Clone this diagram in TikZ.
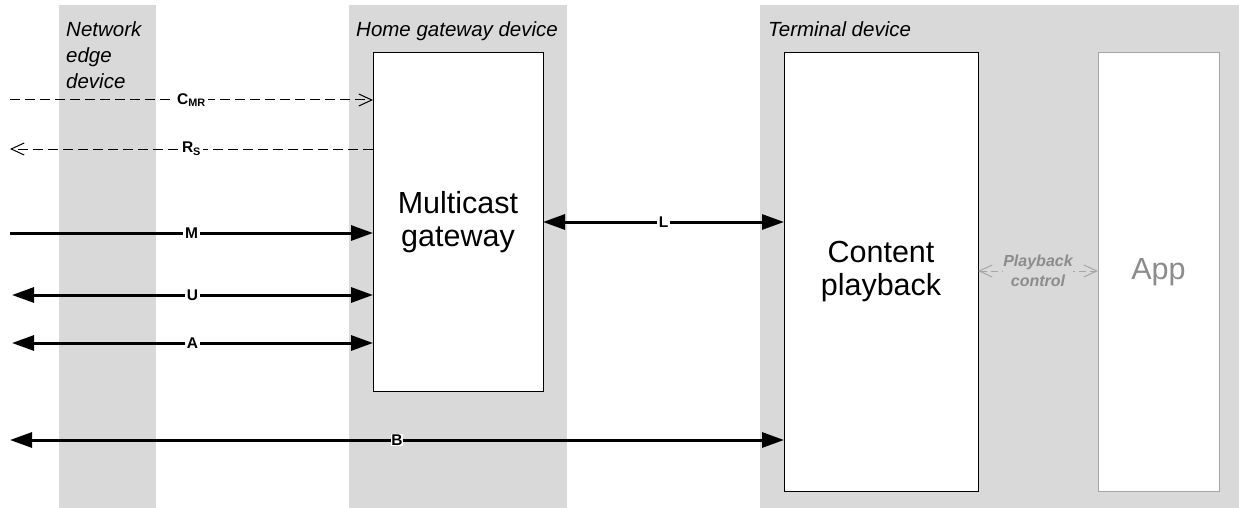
\documentclass[tikz,border=0pt]{standalone}
\usepackage{fontspec}
\setmainfont{Liberation Sans}
\usetikzlibrary{arrows.meta}
\definecolor{band}{HTML}{D9D9D9}
\definecolor{faded}{HTML}{8C8C8C}
\definecolor{appline}{HTML}{A6A6A6}
\begin{document}
\begin{tikzpicture}[x=1pt,y=-1pt,
  bandbox/.style={fill=band,draw=none,anchor=north west,inner sep=0pt,outer sep=0pt},
  block/.style={draw=black,line width=1pt,fill=white,anchor=north west,inner sep=0pt,outer sep=0pt,align=center,font=\fontsize{30.5}{33}\selectfont},
  header/.style={anchor=north west,inner sep=0pt,align=left,font=\fontsize{20.5}{26}\selectfont\itshape},
  lbl/.style={fill=white,inner xsep=2pt,inner ysep=0.6pt,font=\fontsize{15.5}{17}\selectfont\bfseries},
  solidarrow/.style={line width=3pt,-{Triangle[length=22pt,width=15pt]}},
  solidboth/.style={line width=3pt,{Triangle[length=22pt,width=15pt]}-{Triangle[length=22pt,width=15pt]}},
  dasharrow/.style={line width=1pt,dash pattern=on 10pt off 5pt,-{Straight Barb[length=13pt,width=12pt]}},
]
\useasboundingbox (0,0) rectangle (1239,508);
\fill[white] (0,0) rectangle (1239,508);
% bands
\node[bandbox,minimum width=97pt,minimum height=503pt] (nb) at (59,5) {};
\node[bandbox,minimum width=218pt,minimum height=503pt] (hb) at (349,5) {};
\node[bandbox,minimum width=479pt,minimum height=503pt] (tb) at (760,5) {};
% headers
\node[header] (nh) at (66,21) {Network\\edge\\device};
\node[header] (hh) at (356,21) {Home gateway device};
\node[header] (th) at (768,21) {Terminal device};
% boxes
\node[block,minimum width=170pt,minimum height=338pt] (mg) at (373,53) {Multicast\\gateway};
\node[block,minimum width=194pt,minimum height=438pt] (cp) at (784,53) {Content\\playback};
\node[block,draw=appline,text=faded,minimum width=121pt,minimum height=438pt] (app) at (1098,53) {App};
% left coordinates
\coordinate (cmr) at (10,100);
\coordinate (rs) at (10,149);
\coordinate (m) at (10,233);
\coordinate (u) at (12,295);
\coordinate (a) at (12,343);
\coordinate (b) at (10,440);
% connectors
\draw[dasharrow] (cmr) -- (cmr -| mg.west) node[lbl,midway] {C\textsubscript{MR}};
\draw[dasharrow] (rs -| mg.west) -- (rs) node[lbl,midway] {R\textsubscript{S}};
\draw[solidarrow] (m) -- (m -| mg.west) node[lbl,midway] {M};
\draw[solidboth] (u) -- (u -| mg.west) node[lbl,midway] {U};
\draw[solidboth] (a) -- (a -| mg.west) node[lbl,midway] {A};
\draw[solidboth] (b) -- (b -| cp.west) node[lbl,midway,inner xsep=0.6pt] {B};
\coordinate (l) at (543,222);
\draw[solidboth] (l -| mg.east) -- (l -| cp.west) node[lbl,midway] {L};
\coordinate (pc) at (978,271);
\draw[line width=1pt,draw=appline,dash pattern=on 7pt off 4pt,{Straight Barb[length=13pt,width=12pt]}-{Straight Barb[length=13pt,width=12pt]}]
  (pc -| cp.east) -- (pc -| app.west)
  node[midway,fill=band,inner sep=0.5pt,text=faded,align=center,font=\fontsize{16}{20}\selectfont\bfseries\itshape] {Playback\\control};
\end{tikzpicture}
\end{document}
